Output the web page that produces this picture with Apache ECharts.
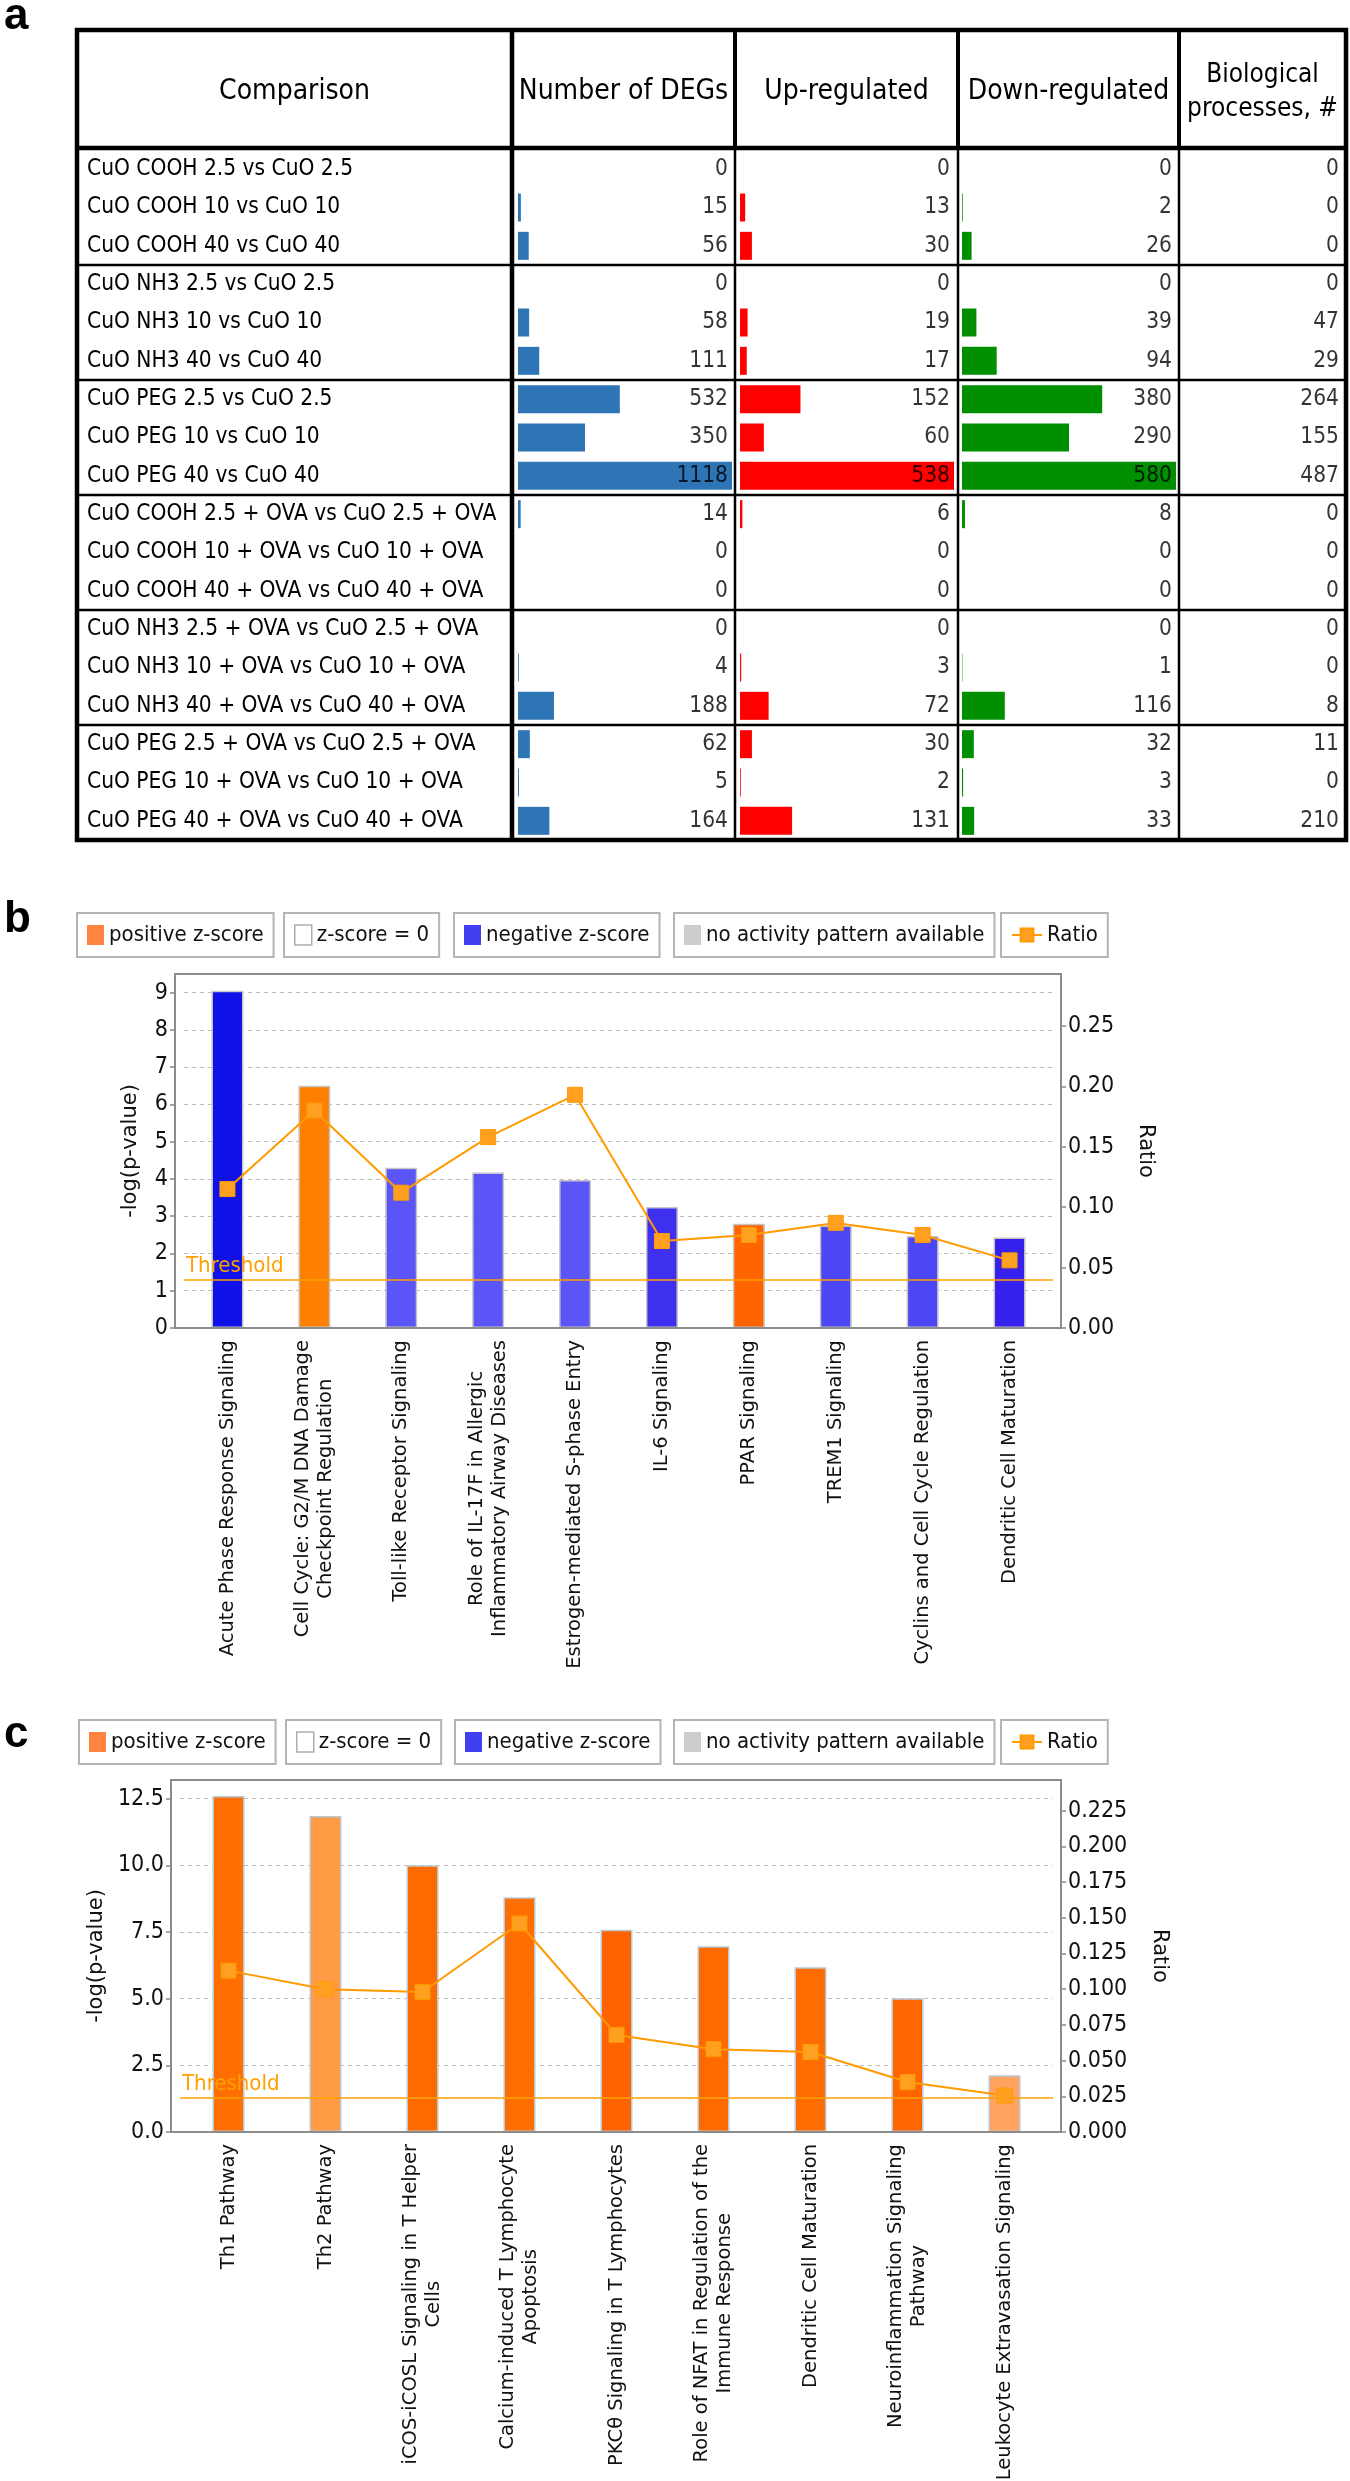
<!DOCTYPE html>
<html>
<head>
<meta charset="utf-8">
<title>DEGs and IPA canonical pathways</title>
<script src="https://cdn.jsdelivr.net/npm/echarts@6/dist/echarts.min.js"></script>
<style>
  html, body { margin: 0; padding: 0; background: #fff; }
  #chart { width: 1350px; height: 2481px; }
</style>
</head>
<body>
<div id="chart"></div>
<script>
// ================================
// 1. data
// ================================
const comparisons = [
    'CuO COOH 2.5 vs CuO 2.5', 'CuO COOH 10 vs CuO 10', 'CuO COOH 40 vs CuO 40',
    'CuO NH3 2.5 vs CuO 2.5', 'CuO NH3 10 vs CuO 10', 'CuO NH3 40 vs CuO 40',
    'CuO PEG 2.5 vs CuO 2.5', 'CuO PEG 10 vs CuO 10', 'CuO PEG 40 vs CuO 40',
    'CuO COOH 2.5 + OVA vs CuO 2.5 + OVA', 'CuO COOH 10 + OVA vs CuO 10 + OVA', 'CuO COOH 40 + OVA vs CuO 40 + OVA',
    'CuO NH3 2.5 + OVA vs CuO 2.5 + OVA', 'CuO NH3 10 + OVA vs CuO 10 + OVA', 'CuO NH3 40 + OVA vs CuO 40 + OVA',
    'CuO PEG 2.5 + OVA vs CuO 2.5 + OVA', 'CuO PEG 10 + OVA vs CuO 10 + OVA', 'CuO PEG 40 + OVA vs CuO 40 + OVA'
];
const degs     = [0, 15, 56, 0, 58, 111, 532, 350, 1118, 14, 0, 0, 0, 4, 188, 62, 5, 164];
const upReg    = [0, 13, 30, 0, 19, 17, 152, 60, 538, 6, 0, 0, 0, 3, 72, 30, 2, 131];
const downReg  = [0, 2, 26, 0, 39, 94, 380, 290, 580, 8, 0, 0, 0, 1, 116, 32, 3, 33];
const bioProc  = [0, 0, 0, 0, 47, 29, 264, 155, 487, 0, 0, 0, 0, 0, 8, 11, 0, 210];
const tableHeaders = ['Comparison', 'Number of DEGs', 'Up-regulated', 'Down-regulated', 'Biological\nprocesses, #'];

const pathwaysB = [
    'Acute Phase Response Signaling',
    'Cell Cycle: G2/M DNA Damage\nCheckpoint Regulation',
    'Toll-like Receptor Signaling',
    'Role of IL-17F in Allergic\nInflammatory Airway Diseases',
    'Estrogen-mediated S-phase Entry',
    'IL-6 Signaling',
    'PPAR Signaling',
    'TREM1 Signaling',
    'Cyclins and Cell Cycle Regulation',
    'Dendritic Cell Maturation'
];
const logPB   = [9.05, 6.5, 4.3, 4.17, 3.97, 3.25, 2.8, 2.75, 2.47, 2.43];
const ratioB  = [0.115, 0.180, 0.112, 0.158, 0.193, 0.072, 0.077, 0.087, 0.077, 0.056];

const pathwaysC = [
    'Th1 Pathway',
    'Th2 Pathway',
    'iCOS-iCOSL Signaling in T Helper\nCells',
    'Calcium-induced T Lymphocyte\nApoptosis',
    'PKCθ Signaling in T Lymphocytes',
    'Role of NFAT in Regulation of the\nImmune Response',
    'Dendritic Cell Maturation',
    'Neuroinflammation Signaling\nPathway',
    'Leukocyte Extravasation Signaling'
];
const logPC   = [12.6, 11.85, 10.0, 8.8, 7.58, 6.97, 6.18, 5.02, 2.13];
const ratioC  = [0.113, 0.100, 0.098, 0.146, 0.068, 0.058, 0.056, 0.035, 0.0255];

const THRESHOLD = 1.3; // -log10(0.05)
const legendNames = ['positive z-score', 'z-score = 0', 'negative z-score', 'no activity pattern available', 'Ratio'];

// z-score shading of each bar (style only)
const barColorsB = ['#1010e8', '#ff8000', '#5b55f7', '#5b55f7', '#5b55f7', '#3f30f0', '#ff6400', '#4c46f5', '#4c46f3', '#3520ee'];
const barColorsC = ['#ff6e00', '#ff9a45', '#ff6a00', '#ff6e00', '#ff6300', '#ff6a00', '#ff6c00', '#ff6600', '#ffa35f'];

// ================================
// 2. styles / layout
// ================================
const NARROW = "'DejaVu Sans Condensed', 'Liberation Sans Narrow', sans-serif";
const SANS = "'DejaVu Sans', Verdana, sans-serif";
const TABLE_FS = 22.5;
const COLS = [77, 512, 735, 958, 1179, 1346];   // table column borders
const T_TOP = 30, T_HEAD = 148, T_ROW0 = 150, T_BOTTOM = 840;

const chart = echarts.init(document.getElementById('chart'), null, { renderer: 'canvas' });

// ---- table helpers ----
function tableGrid(left, width) {
    return { left, top: T_ROW0, width, height: T_BOTTOM - T_ROW0, outerBoundsMode: 'none' };
}
function tableBars(vals, idx, color) {
    return {
        type: 'bar', xAxisIndex: idx, yAxisIndex: idx, data: vals, barWidth: 28, silent: true,
        itemStyle: { color, borderWidth: 0 }
    };
}
function tableNumbers(vals, idx) {
    const m = Math.max(...vals);
    return {
        type: 'scatter', xAxisIndex: idx, yAxisIndex: idx, symbolSize: 0, silent: true, z: 5,
        itemStyle: { color: 'rgba(0,0,0,0)' },
        data: vals.map((v, i) => [m, i, v]),
        label: {
            show: true, position: 'left', distance: 4, formatter: p => p.value[2],
            fontFamily: NARROW, fontSize: TABLE_FS, color: '#000'
        }
    };
}
function tableXAxis(idx, vals) {
    return { type: 'value', gridIndex: idx, min: 0, max: Math.max(...vals), show: false };
}
function tableYAxis(idx, withLabels) {
    return {
        type: 'category', gridIndex: idx, data: comparisons, inverse: true,
        axisLine: { show: false }, axisTick: { show: false }, splitLine: { show: false },
        axisLabel: withLabels ? {
            show: true, interval: 0, align: 'left', margin: 431,
            fontFamily: NARROW, fontSize: TABLE_FS, color: '#000'
        } : { show: false }
    };
}

// ---- pathway chart helpers ----
const catLabel = {
    interval: 0, rotate: 90, margin: 12, hideOverlap: false,
    formatter: v => v.split('\n').map(s => '{l|' + s + '}').join('\n'),
    rich: { l: { align: 'center', fontFamily: SANS, fontSize: 19.5, lineHeight: 23, color: '#111' } }
};
function catAxis(idx, cats) {
    return {
        type: 'category', gridIndex: idx, data: cats,
        axisLine: { show: false }, axisTick: { show: false }, axisLabel: catLabel
    };
}
function leftAxis(idx, max, interval, digits, offset, gap) {
    return {
        type: 'value', gridIndex: idx, min: 0, max, interval, offset, position: 'left',
        name: '-log(p-value)', nameLocation: 'middle', nameRotate: 90, nameGap: gap,
        nameTextStyle: { fontFamily: SANS, fontSize: 21, color: '#111' },
        axisLine: { show: false },
        axisTick: { show: true, length: 5, lineStyle: { color: '#888', width: 1.5 } },
        axisLabel: {
            showMaxLabel: false, margin: 7, formatter: v => v.toFixed(digits),
            fontFamily: NARROW, fontSize: 23, color: '#111'
        },
        splitLine: { show: true, lineStyle: { color: '#bdbdbd', type: [4, 4], width: 1 } }
    };
}
function rightAxis(idx, max, interval, digits, offset, gap) {
    return {
        type: 'value', gridIndex: idx, min: 0, max, interval, offset, position: 'right',
        name: 'Ratio', nameLocation: 'middle', nameRotate: -90, nameGap: gap,
        nameTextStyle: { fontFamily: SANS, fontSize: 21, color: '#111' },
        axisLine: { show: false },
        axisTick: { show: true, length: 5, lineStyle: { color: '#888', width: 1.5 } },
        axisLabel: {
            showMaxLabel: false, margin: 7, formatter: v => v.toFixed(digits),
            fontFamily: NARROW, fontSize: 23, color: '#111'
        },
        splitLine: { show: false }
    };
}
function pathwayBars(vals, colors, xi, yi, border) {
    return {
        type: 'bar', name: 'pathways', xAxisIndex: xi, yAxisIndex: yi, barWidth: 32, silent: true,
        data: vals.map((v, i) => ({ value: v, itemStyle: { color: colors[i] } })),
        itemStyle: { borderColor: border, borderWidth: 1.5 },
        markLine: {
            silent: true, symbol: 'none', z: 6,
            lineStyle: { color: '#ffa000', width: 1.5, type: 'solid' },
            label: {
                show: true, position: 'insideStartTop', formatter: 'Threshold', distance: 2,
                color: '#ffa000', fontFamily: NARROW, fontSize: 22
            },
            data: [{ yAxis: THRESHOLD }]
        }
    };
}
function ratioLine(vals, xi, yi) {
    return {
        type: 'line', name: 'Ratio', xAxisIndex: xi, yAxisIndex: yi, data: vals, z: 8,
        symbol: 'rect', symbolSize: 15, silent: true,
        lineStyle: { color: '#ff9a00', width: 2 },
        itemStyle: { color: '#ffa020', borderColor: '#ff9a00', borderWidth: 1 }
    };
}

// legend boxes (one bordered box per entry)
const legendSwatch = {
    'positive z-score': { color: '#ff6512' },
    'z-score = 0': { color: '#ffffff', borderColor: '#9a9a9a', borderWidth: 1.5 },
    'negative z-score': { color: '#1010ee' },
    'no activity pattern available': { color: '#c0c0c0' }
};
function legendRow(top, lefts) {
    return legendNames.map((name, i) => {
        const isLine = name === 'Ratio';
        return {
            left: lefts[i], top, orient: 'horizontal', selectedMode: false,
            padding: [11, 10], borderColor: '#b4b4b4', borderWidth: 2, borderRadius: 0,
            itemWidth: isLine ? 30 : 17, itemHeight: isLine ? 16 : 20,
            textStyle: { fontFamily: NARROW, fontSize: 22, color: '#111' },
            data: [isLine ? name : { name, icon: 'rect', itemStyle: legendSwatch[name] }]
        };
    });
}
const legendDummies = legendNames.slice(0, 4).map(name => ({
    type: 'scatter', name, xAxisIndex: 4, yAxisIndex: 4, data: [], silent: true,
    itemStyle: legendSwatch[name]
}));

// ---- graphic: table frame, header texts, panel letters, chart frames ----
function hline(x1, x2, y, w) {
    return { type: 'line', shape: { x1, y1: y, x2, y2: y }, style: { stroke: '#000', lineWidth: w }, z: 20 };
}
function vline(x, y1, y2, w) {
    return { type: 'line', shape: { x1: x, y1, x2: x, y2 }, style: { stroke: '#000', lineWidth: w }, z: 20 };
}
function txt(text, x, y, size, family, weight, align) {
    return {
        type: 'text', x, y, z: 20,
        style: {
            text, fontSize: size, fontFamily: family, fontWeight: weight || 'normal',
            fill: '#000', textAlign: align || 'center', textVerticalAlign: 'middle', lineHeight: size * 1.3
        }
    };
}
const rowH = (T_BOTTOM - T_ROW0) / comparisons.length;
const graphics = [];
graphics.push({ type: 'rect', shape: { x: COLS[0], y: T_TOP, width: COLS[5] - COLS[0], height: T_BOTTOM - T_TOP },
    style: { fill: 'none', stroke: '#000', lineWidth: 4.5 }, z: 20 });
graphics.push(hline(COLS[0], COLS[5], T_HEAD, 4.5));
for (let g = 1; g < 6; g++) graphics.push(hline(COLS[0], COLS[5], T_ROW0 + rowH * 3 * g, 2.5));
graphics.push(vline(COLS[1], T_TOP, T_BOTTOM, 4.5));
for (let c = 2; c < 5; c++) {
    graphics.push(vline(COLS[c], T_TOP, T_HEAD, 4));
    graphics.push(vline(COLS[c], T_HEAD, T_BOTTOM, 2.5));
}
tableHeaders.forEach((h, i) => {
    graphics.push(txt(h, (COLS[i] + COLS[i + 1]) / 2, 92, i === 4 ? 26 : 28, NARROW));
});
graphics.push(txt('a', 4, 17, 44, 'Liberation Sans, Arial, sans-serif', 'bold', 'left'));
graphics.push(txt('b', 4, 920, 44, 'Liberation Sans, Arial, sans-serif', 'bold', 'left'));
graphics.push(txt('c', 4, 1735, 44, 'Liberation Sans, Arial, sans-serif', 'bold', 'left'));
graphics.push({ type: 'rect', shape: { x: 175, y: 974, width: 886, height: 354 },
    style: { fill: 'none', stroke: '#8c8c8c', lineWidth: 2 }, z: 20 });
graphics.push({ type: 'rect', shape: { x: 171, y: 1780, width: 890, height: 352 },
    style: { fill: 'none', stroke: '#8c8c8c', lineWidth: 2 }, z: 20 });

// ================================
// 3. option
// ================================
const option = {
    backgroundColor: '#fff',
    animation: false,
    legend: [].concat(
        legendRow(913, [77, 284, 454, 674, 1001]),
        legendRow(1720, [79, 286, 455, 674, 1001])
    ),
    grid: [
        tableGrid(518, 214),
        tableGrid(740, 214),
        tableGrid(962, 214),
        tableGrid(1185, 158),
        { left: 184, top: 974, width: 869, height: 354, outerBoundsMode: 'none' },
        { left: 180, top: 1780, width: 873, height: 352, outerBoundsMode: 'none' }
    ],
    xAxis: [
        tableXAxis(0, degs),
        tableXAxis(1, upReg),
        tableXAxis(2, downReg),
        tableXAxis(3, bioProc),
        catAxis(4, pathwaysB),
        catAxis(5, pathwaysC)
    ],
    yAxis: [
        tableYAxis(0, true),
        tableYAxis(1, false),
        tableYAxis(2, false),
        tableYAxis(3, false),
        leftAxis(4, 9.5, 1, 0, 9, 34),
        rightAxis(4, 0.293, 0.05, 2, 8, 74),
        leftAxis(5, 13.2, 2.5, 1, 9, 62),
        rightAxis(5, 0.2465, 0.025, 3, 8, 88)
    ],
    graphic: graphics,
    series: [
        tableBars(degs, 0, '#2e75b6'),
        tableBars(upReg, 1, '#ff0000'),
        tableBars(downReg, 2, '#008f00'),
        tableNumbers(degs, 0),
        tableNumbers(upReg, 1),
        tableNumbers(downReg, 2),
        tableNumbers(bioProc, 3),
        pathwayBars(logPB, barColorsB, 4, 4, '#c6c6c6'),
        ratioLine(ratioB, 4, 5),
        pathwayBars(logPC, barColorsC, 5, 6, '#b9cad6'),
        ratioLine(ratioC, 5, 7)
    ].concat(legendDummies)
};

chart.setOption(option);
</script>
</body>
</html>
